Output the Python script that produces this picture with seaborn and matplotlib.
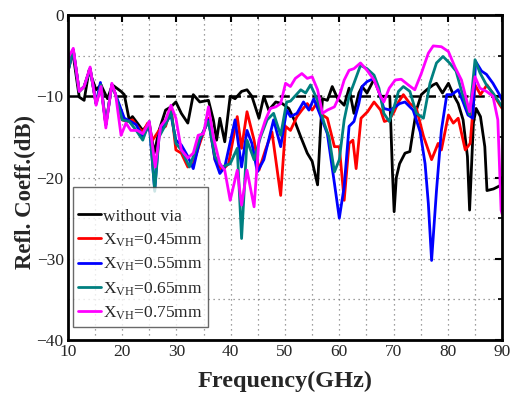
import numpy as np
import pandas as pd
import matplotlib
matplotlib.use("Agg")
import matplotlib.pyplot as plt
import seaborn as sns
from matplotlib.ticker import MultipleLocator

# ---------------- data ----------------
f_black = [10, 11, 12.1, 13, 13.9, 15.2, 16.1, 17.3, 18.2, 19.8, 20.4, 21.3, 21.9, 22.8, 23.8, 25, 25.9, 26.8,
           28, 29, 29.9, 30.9, 32.1, 33.1, 34.3, 35.9, 36.8, 37.4, 38, 38.9, 39.9, 40.8, 42, 43, 43.9, 45.2,
           46.1, 47, 48.3, 49.5, 50.7, 51.7, 52.9, 54.1, 55, 56, 56.6, 56.9, 57.8, 58.7, 59.7, 60.9, 61.8,
           62.7, 63.6, 64.2, 65.1, 66.4, 67.6, 68.5, 69.3, 69.8, 70.1, 70.5, 71.1, 72.1, 73, 73.6, 74.2, 75.1,
           76.1, 77.3, 77.9, 79, 80.1, 81, 81.9, 82.8, 83.6, 84, 84.7, 85.2, 86, 86.8, 87.2, 88.4, 89.6, 90]
db_black = [-5.5, -5.0, -10.1, -10.5, -6.8, -9.2, -8.6, -10.3, -8.6, -9.4, -9.8, -12.9, -12.5, -13.3, -14.2,
            -13.3, -17.0, -14.2, -11.7, -11.3, -10.7, -12.1, -13.3, -9.8, -10.7, -10.5, -12.9, -15.4, -12.7,
            -15.6, -10.0, -10.3, -9.4, -9.2, -10.0, -12.7, -10.0, -11.7, -10.7, -10.9, -11.5, -12.9, -15.0,
            -17.0, -18.0, -20.9, -13.3, -10.3, -10.5, -8.8, -10.3, -11.1, -9.0, -12.1, -9.6, -8.8, -9.6, -7.9,
            -10.0, -10.0, -10.0, -19.5, -24.2, -20.0, -18.3, -17.0, -16.8, -14.2, -11.7, -9.8, -9.2, -8.6,
            -8.4, -9.6, -8.4, -9.8, -10.9, -12.9, -17.4, -24.0, -13.3, -11.5, -12.5, -16.2, -21.6, -21.4,
            -21.0, -20.0]

f_045 = [10, 11, 12.1, 13, 14.1, 15.2, 16.1, 17, 18.1, 18.8, 20, 20.9, 21.9, 22.8, 23.8, 24.7, 25.6, 26.8,
         28, 29, 29.9, 30.9, 32.1, 33.1, 34.3, 35.9, 37.1, 38.4, 39.6, 41.2, 42, 43, 44.3, 45.2, 46.4, 47.6,
         49.2, 50.1, 51, 52.2, 53.1, 54.1, 55, 56, 56.9, 57.8, 59.1, 60, 60.9, 61.8, 62.5, 63.1, 64, 65.2,
         66.4, 67.6, 68.3, 69.2, 70.1, 70.9, 71.8, 73, 74.2, 75.5, 77, 78.2, 78.8, 80.1, 81, 81.9, 83.2, 84.1,
         85, 86, 87.2, 88.4, 89.6, 90]
db_045 = [-7.0, -4.3, -9.4, -8.8, -6.6, -10.9, -8.6, -13.5, -8.6, -9.8, -12.9, -13.1, -12.9, -13.7, -14.4,
          -13.3, -15.4, -14.2, -13.7, -11.3, -16.6, -17.0, -18.7, -18.3, -15.8, -12.7, -17.8, -19.1, -18.3,
          -12.5, -16.4, -11.9, -15.4, -19.1, -16.6, -14.4, -22.2, -13.7, -14.2, -12.5, -11.7, -10.9, -11.7,
          -10.7, -12.3, -12.7, -16.2, -16.2, -22.8, -15.8, -15.4, -18.9, -12.7, -11.9, -10.7, -11.7, -13.1,
          -12.9, -11.9, -10.7, -9.8, -10.9, -11.5, -14.9, -17.8, -15.8, -16.6, -12.3, -13.3, -12.7, -16.6,
          -15.8, -8.6, -9.8, -8.6, -9.8, -11.1, -11.5]

f_055 = [10, 11, 12.1, 13, 14.1, 15.2, 16, 17, 18.1, 18.8, 20.4, 21.3, 22.6, 23.8, 25, 26, 26.8, 28, 29,
         29.9, 30.9, 32.1, 33.1, 34.3, 35.9, 37.1, 38, 38.9, 40.8, 42, 43, 43.9, 44.9, 46.1, 47.9, 49.2,
         50.3, 51, 52.2, 53.4, 54.4, 55.3, 56.6, 57.8, 59.1, 60, 60.9, 61.8, 62.7, 63.6, 64.2, 65.1, 66.4,
         67.3, 68.2, 69.4, 70.3, 71.1, 72.1, 73.6, 74.9, 75.8, 76.4, 77, 77.9, 78.8, 79.8, 80.7, 81.9, 82.8,
         83.7, 84.6, 85.1, 86.2, 87.1, 88.3, 89.5, 90]
db_055 = [-7.0, -4.3, -9.4, -8.8, -6.6, -10.9, -8.3, -13.5, -8.6, -9.8, -12.7, -13.0, -13.5, -15.0, -13.5,
          -21.5, -14.6, -13.3, -12.3, -15.4, -16.0, -17.4, -18.9, -15.4, -12.9, -17.8, -19.5, -18.7, -12.9,
          -18.7, -14.2, -15.8, -19.3, -17.8, -12.9, -16.2, -11.7, -12.5, -12.1, -10.7, -11.7, -10.3, -12.5,
          -14.6, -20.7, -25.0, -21.1, -13.7, -13.1, -10.9, -8.8, -8.2, -7.8, -9.4, -11.5, -11.7, -11.3,
          -10.9, -10.7, -11.7, -14.4, -18.3, -23.2, -30.2, -21.6, -14.2, -9.8, -9.8, -9.2, -10.7, -12.3,
          -12.7, -5.7, -6.9, -7.3, -8.4, -9.8, -10.5]

f_065 = [10, 11, 12.1, 13, 14.1, 15.2, 16.1, 17, 18.1, 18.8, 20, 21.3, 22.6, 23.8, 25, 26, 26.8, 28, 29,
         29.9, 30.9, 32.4, 34.3, 35.9, 37.1, 38.4, 39.9, 41.2, 42, 43, 44.3, 45.5, 46.7, 47.9, 49.2, 50.3,
         51, 52.9, 53.8, 54.7, 56, 57.2, 58.1, 59.1, 60, 60.9, 61.8, 62.7, 63.9, 65.1, 66.4, 67.3, 68.2,
         69.2, 70.1, 70.9, 71.8, 73, 74.2, 75.5, 76.7, 77.9, 79.1, 80.3, 81.5, 82.8, 84, 85, 85.9, 87.1,
         88.3, 89.2, 90]
db_065 = [-7.0, -4.3, -9.4, -8.8, -6.6, -10.9, -8.6, -13.5, -8.6, -9.8, -12.9, -13.1, -14.2, -15.4, -13.1,
          -21.7, -15.0, -13.5, -11.9, -15.8, -16.6, -18.7, -15.2, -13.1, -17.4, -18.7, -18.3, -16.4, -27.5,
          -15.4, -17.8, -15.0, -12.9, -12.1, -14.8, -10.7, -10.6, -9.2, -9.6, -8.6, -10.5, -13.3, -15.0,
          -19.3, -17.8, -12.9, -10.0, -8.4, -6.2, -6.6, -7.4, -9.0, -12.1, -13.1, -11.3, -9.4, -8.8, -9.4,
          -12.1, -12.7, -8.4, -5.9, -5.1, -5.9, -6.9, -10.0, -12.3, -5.5, -7.1, -8.6, -9.6, -10.5, -11.3]

f_075 = [10, 10.2, 11, 12.1, 13, 14.1, 15.2, 16.1, 17, 18.1, 18.8, 19.8, 20.7, 21.6, 22.8, 23.8, 25, 26.1,
         27.1, 28, 29, 29.9, 30.9, 32.1, 33.1, 34, 35, 35.9, 36.8, 38, 38.9, 39.9, 41.2, 42, 43, 44.3, 45.2,
         46.4, 47.3, 48.3, 49.2, 50.1, 51, 51.9, 53.1, 54.1, 55, 56, 56.9, 57.8, 59.1, 60, 60.9, 61.8, 62.7,
         63.9, 65.1, 66.4, 67.6, 68.2, 69.2, 70.3, 71.4, 72.7, 73.9, 75.1, 76.4, 77.3, 78.8, 80.1, 81.3,
         82.5, 84, 85, 85.9, 87.1, 88.3, 89.2, 89.8, 90]
db_075 = [-7.2, -5.1, -4.1, -9.4, -8.8, -6.4, -11.1, -8.8, -13.9, -8.4, -9.8, -14.8, -13.3, -14.2, -14.2,
          -14.6, -13.1, -18.7, -13.7, -12.9, -11.1, -12.7, -16.6, -17.6, -17.0, -14.8, -14.6, -11.3, -15.0,
          -18.3, -19.1, -22.8, -19.1, -23.4, -19.1, -23.6, -15.4, -12.9, -11.5, -11.3, -10.9, -8.4, -8.8,
          -7.8, -7.2, -7.8, -7.6, -9.2, -12.1, -11.7, -11.3, -10.0, -8.0, -6.8, -6.6, -5.9, -6.8, -8.0,
          -10.0, -10.7, -9.0, -8.0, -7.9, -8.6, -9.2, -7.2, -4.7, -3.8, -3.9, -4.5, -6.4, -8.0, -11.9, -7.6,
          -9.0, -9.4, -10.0, -12.9, -24.0, -24.5]

labels = ["without via", r"X$_{\mathrm{VH}}$=0.45mm", r"X$_{\mathrm{VH}}$=0.55mm",
          r"X$_{\mathrm{VH}}$=0.65mm", r"X$_{\mathrm{VH}}$=0.75mm"]
colors = ["#000000", "#FF0000", "#0000FF", "#008080", "#FF00FF"]
threshold = -10

x_ticks = [10, 20, 30, 40, 50, 60, 70, 80, 90]
y_ticks = [0, -10, -20, -30, -40]

# ---------------- build table ----------------
series = [(f_black, db_black), (f_045, db_045), (f_055, db_055), (f_065, db_065), (f_075, db_075)]
frames = []
for lab, (fx, dy) in zip(labels, series):
    frames.append(pd.DataFrame({"Frequency": fx, "dB": dy, "curve": lab}))
df = pd.concat(frames, ignore_index=True)

# ---------------- style ----------------
sns.set_theme(style="white")
plt.rcParams['font.family'] = ['Liberation Serif', 'DejaVu Serif']
plt.rcParams['mathtext.fontset'] = 'custom'
plt.rcParams['mathtext.rm'] = 'Liberation Serif'
plt.rcParams['mathtext.it'] = 'Liberation Serif:italic'

fig = plt.figure(figsize=(5.14, 3.95), dpi=100)
ax = fig.add_axes([0.132, 0.139, 0.845, 0.823])

sns.lineplot(data=df, x="Frequency", y="dB", hue="curve", hue_order=labels,
             palette=colors, estimator=None, sort=False, linewidth=2.0, ax=ax)
ax.axhline(threshold, color="black", linestyle=(0, (4, 2.5)), linewidth=1.8, zorder=1)

ax.set_xlim(10, 90)
ax.set_ylim(-40, 0)
ax.set_xticks(x_ticks)
ax.set_yticks(y_ticks)
ax.xaxis.set_minor_locator(MultipleLocator(5))
ax.yaxis.set_minor_locator(MultipleLocator(5))
ax.grid(True, which="both", linestyle=(0, (1, 3)), color="#808080", linewidth=0.9)
ax.set_axisbelow(True)
ax.tick_params(which="both", direction="in", top=True, right=True, labelsize=12.5, color="black")
ax.tick_params(which="major", length=5, width=1.5, pad=3)
ax.tick_params(which="minor", length=3, width=1.2)
for s in ax.spines.values():
    s.set_linewidth(2.0)
    s.set_color("black")

ax.set_xlabel("Frequency(GHz)", fontsize=17.5, fontweight="bold")
ax.set_ylabel("Refl. Coeff.(dB)", fontsize=16.5, fontweight="bold")
ax.xaxis.set_label_coords(0.5, -0.095)
ax.yaxis.set_label_coords(-0.097, 0.455)
ax.xaxis.label.set_va("top")
ax.yaxis.label.set_va("center")

leg = ax.legend(loc="lower left", bbox_to_anchor=(0.012, 0.04), fontsize=12.5, frameon=True,
                fancybox=False, edgecolor="#444444", handlelength=1.3, handletextpad=0.12,
                borderpad=0.3, labelspacing=0.4, borderaxespad=0.0,
                title=" ", title_fontsize=7)
leg.get_frame().set_linewidth(1.0)
for line in leg.get_lines():
    line.set_linewidth(2.0)

fig.savefig("out.png", dpi=100)
